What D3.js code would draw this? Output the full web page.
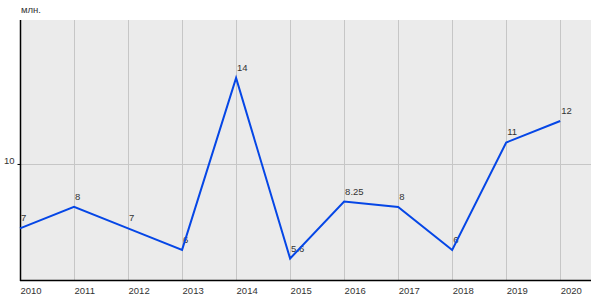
<!DOCTYPE html>
<html lang="ru">
<head>
<meta charset="utf-8">
<title>млн.</title>
<script src="https://cdn.jsdelivr.net/npm/d3@7"></script>
<style>
  body { margin: 0; background: #fff; }
  text { font-family: "Liberation Sans", Arial, sans-serif; font-size: 9.5px; fill: #333; }
</style>
</head>
<body>
<script>
var w = 600;
var h = 300;
var margin = {top: 20, right: 9, bottom: 20, left: 20};

var years = [2010, 2011, 2012, 2013, 2014, 2015, 2016, 2017, 2018, 2019, 2020];
var values = [7, 8, 7, 6, 14, 5.6, 8.25, 8, 6, 11, 12];
var labels = ["7", "8", "7", "6", "14", "5.6", "8.25", "8", "6", "11", "12"];
var yTicks = [10];

var xScale = d3.scaleLinear()
  .domain([2010, 2020.57])
  .range([margin.left, w - margin.right]);

var yScale = d3.scaleLinear()
  .domain([4.6, 16.7])
  .range([h - margin.bottom, margin.top]);

var svg = d3.select("body").append("svg")
  .attr("width", w)
  .attr("height", h);

// plot background
svg.append("rect")
  .attr("x", margin.left)
  .attr("y", margin.top)
  .attr("width", w - margin.right - margin.left)
  .attr("height", h - margin.bottom - margin.top)
  .attr("fill", "#ebebeb");

// grid
svg.selectAll("line.vgrid")
  .data(years.slice(1))
  .enter().append("line")
  .attr("class", "vgrid")
  .attr("x1", function(d) { return Math.round(xScale(d)) + 0.5; })
  .attr("x2", function(d) { return Math.round(xScale(d)) + 0.5; })
  .attr("y1", margin.top)
  .attr("y2", h - margin.bottom)
  .attr("stroke", "#c6c6c6");

svg.selectAll("line.hgrid")
  .data(yTicks)
  .enter().append("line")
  .attr("class", "hgrid")
  .attr("x1", margin.left)
  .attr("x2", w - margin.right)
  .attr("y1", function(d) { return Math.round(yScale(d)) + 0.5; })
  .attr("y2", function(d) { return Math.round(yScale(d)) + 0.5; })
  .attr("stroke", "#c6c6c6");

// axes
var yAxis = d3.axisLeft(yScale).tickValues(yTicks).tickSize(3).tickPadding(3);
var gy = svg.append("g")
  .attr("transform", "translate(" + (margin.left + 0.5) + ",0)")
  .call(yAxis);
gy.select(".domain").remove();
gy.selectAll("text").attr("dy", "-0.05em");

var xAxis = d3.axisBottom(xScale).tickValues(years).tickFormat(d3.format("d")).tickSize(0).tickPadding(7);
var gx = svg.append("g")
  .attr("transform", "translate(0," + (h - margin.bottom + 0.5) + ")")
  .call(xAxis);
gx.select(".domain").remove();
gx.selectAll("text").attr("text-anchor", "start");

svg.append("line")
  .attr("x1", margin.left + 0.5).attr("x2", margin.left + 0.5)
  .attr("y1", margin.top).attr("y2", h - margin.bottom + 1)
  .attr("stroke", "#000").attr("stroke-width", 1.5);
svg.append("line")
  .attr("x1", margin.left).attr("x2", w - margin.right)
  .attr("y1", h - margin.bottom + 0.5).attr("y2", h - margin.bottom + 0.5)
  .attr("stroke", "#000").attr("stroke-width", 1.5);

// unit label
svg.append("text")
  .attr("x", margin.left + 1)
  .attr("y", 13)
  .text("млн.");

// value labels
svg.selectAll("text.val")
  .data(values)
  .enter().append("text")
  .attr("class", "val")
  .attr("x", function(d, i) { return xScale(years[i]) + 1; })
  .attr("y", function(d) { return yScale(d) - 7; })
  .text(function(d, i) { return labels[i]; });

// line
var line = d3.line()
  .x(function(d, i) { return xScale(years[i]); })
  .y(function(d) { return yScale(d); });

svg.append("path")
  .datum(values)
  .attr("d", line)
  .attr("fill", "none")
  .attr("stroke", "#0546e6")
  .attr("stroke-width", 2);
</script>
</body>
</html>
